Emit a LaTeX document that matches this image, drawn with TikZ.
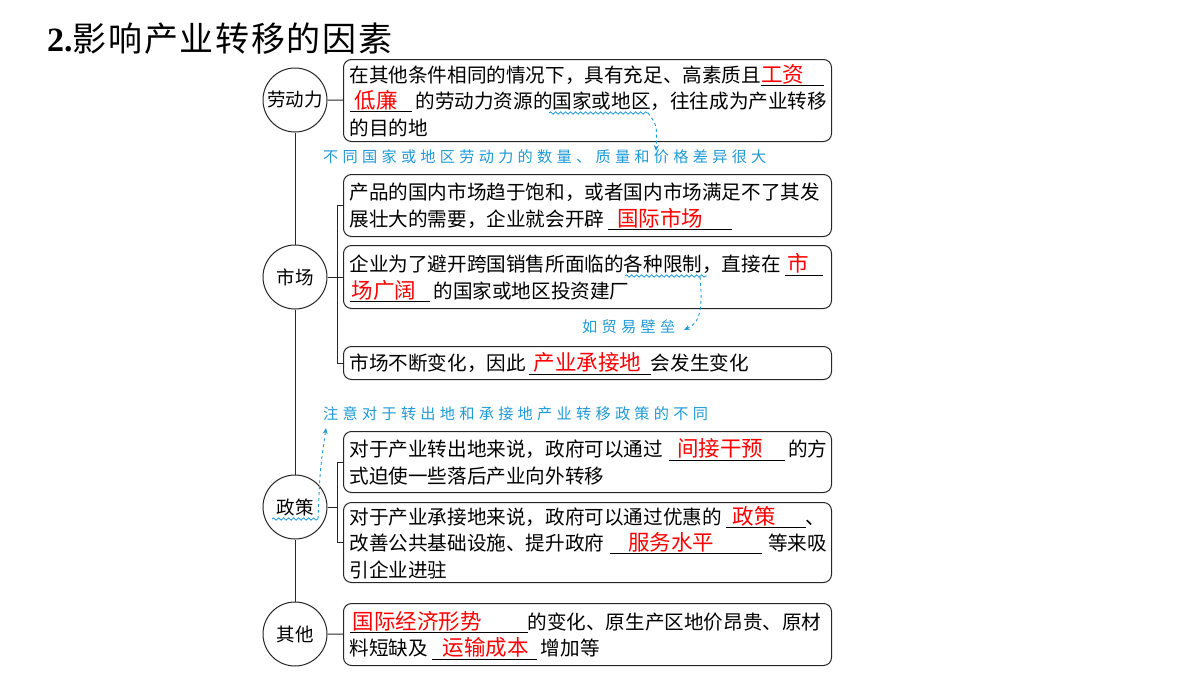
\documentclass[tikz,border=0pt]{standalone}
\usepackage{fontspec}
\setmainfont{Liberation Serif}
\newfontfamily\cjk{Noto Sans CJK SC}
\newfontfamily\titlefont[LetterSpace=5]{Noto Sans CJK SC}
\newfontfamily\notefont[LetterSpace=28]{Noto Sans CJK SC}
\usetikzlibrary{arrows.meta,decorations.pathmorphing}

\definecolor{notecyan}{HTML}{1E9AD6}
\definecolor{linegray}{HTML}{262626}

% red answer written on a blank
\newcommand{\fillin}[3][4]{\smash{\rlap{\rule[-3.5pt]{#2pt}{0.8pt}}}\makebox[#2pt][l]{\hspace{#1pt}\textcolor{red}{\fontsize{21.5}{21.5}\selectfont #3}}}

\begin{document}
\begin{tikzpicture}[x=1pt, y=-1pt,
    factor/.style={draw=linegray, line width=1pt, circle, minimum size=64pt, inner sep=0pt, fill=white,
        font=\cjk\fontsize{18.5}{20}\selectfont},
    infobox/.style={draw=linegray, line width=1pt, rounded corners=8pt, anchor=north west,
        text width=476pt, inner xsep=6pt, inner ysep=2pt, align=left,
        font=\cjk\fontsize{19.6}{26.5}\selectfont},
    note/.style={anchor=west, inner sep=0pt, text=notecyan, font=\notefont\fontsize{15.2}{15}\selectfont},
    wavy/.style={draw=notecyan, line width=0.8pt, decorate,
        decoration={snake, amplitude=1.2pt, segment length=5pt}},
    hint/.style={draw=notecyan, line width=0.9pt, dashed, -{Stealth[length=6pt, width=5pt]}}
]
    \useasboundingbox (0,0) rectangle (1200,675);

    % Title
    \node[anchor=base west, inner sep=0pt] (title) at (47,51)
        {\fontsize{34}{36}\selectfont\textbf{2.}\titlefont 影响产业转移的因素};

    % Factors
    \node[factor] (labor)  at (295,100) {劳动力};
    \node[factor] (market) at (295,277) {市场};
    \node[factor] (policy) at (295,507) {政策};
    \node[factor] (other)  at (295,634) {其他};

    % Trunk
    \foreach \a/\b in {labor/market, market/policy, policy/other} {
        \draw[linegray, line width=1pt] (\a) -- (\b);
    }

    % Boxes
    \node[infobox, minimum height=82pt] (l1) at (343,59)
        {在其他条件相同的情况下，具有充足、高素质且\fillin[0]{63}{工资}\\
         \fillin[5]{62}{低廉}\kern4pt 的劳动力资源的国家或地区，往往成为产业转移\\
         的目的地};
    \node[infobox, minimum height=62pt] (m1) at (343,174)
        {产品的国内市场趋于饱和，或者国内市场满足不了其发\\
         展壮大的需要，企业就会开辟\kern4pt\fillin[9]{124}{国际市场}};
    \node[infobox, minimum height=63pt] (m2) at (343,245)
        {企业为了避开跨国销售所面临的各种限制，直接在\kern4pt\fillin[3]{38}{市}\\
         \fillin[2]{80}{场广阔}\kern4pt 的国家或地区投资建厂};
    \node[infobox, minimum height=33pt] (m3) at (343,346)
        {市场不断变化，因此\kern3pt\fillin[5]{122}{产业承接地}会发生变化};
    \node[infobox, minimum height=61pt] (p1) at (343,431)
        {对于产业转出地来说，政府可以通过\kern6pt\fillin[8]{116}{间接干预}\kern3pt 的方\\
         式迫使一些落后产业向外转移};
    \node[infobox, minimum height=80pt] (p2) at (343,502)
        {对于产业承接地来说，政府可以通过优惠的\kern4pt\fillin[7]{80}{政策}、\\
         改善公共基础设施、提升政府\kern6pt\fillin[18]{152}{服务水平}\kern6pt 等来吸\\
         引企业进驻};
    \node[infobox, minimum height=62pt] (o1) at (343,603)
        {\fillin[3]{178}{国际经济形势}的变化、原生产区地价昂贵、原材\\
         料短缺及\kern4pt\fillin[11]{105}{运输成本}\kern4pt 增加等};

    % Connectors
    \draw[linegray, line width=1pt] (labor) -- (l1);
    \draw[linegray, line width=1pt] (other) -- (o1);
    \draw[linegray, line width=1pt] (market.east) -- (m2.west);
    \foreach \f/\boxa/\boxb in {market/m1/m3, policy/p1/p2} {
        \draw[linegray, line width=1pt] (\f.east) -- ++(10,0) coordinate (\f-fork);
        \draw[linegray, line width=1pt] (\boxa.west) -| (\f-fork) |- (\boxb.west);
    }

    % Notes
    \node[note] (note1) at (323,157) {不同国家或地区劳动力的数量、质量和价格差异很大};
    \node[note] (note2) at (582,327) {如贸易壁垒};
    \node[note] (note3) at (323,414) {注意对于转出地和承接地产业转移政策的不同};

    % Wavy marks and hints
    \coordinate (wave1a) at (549,113);
    \coordinate (wave1b) at (648,113);
    \coordinate (tip1)   at (656,151);
    \coordinate (wave2a) at (625,276);
    \coordinate (wave2b) at (707,276);
    \coordinate (tip2)   at (684,330);
    \coordinate (wave3a) at (272,519);
    \coordinate (wave3b) at (318,519);
    \coordinate (tip3)   at (326,428);
    \draw[wavy] (wave1a) -- (wave1b);
    \draw[wavy] (wave2a) -- (wave2b);
    \draw[wavy] (wave3a) -- (wave3b);
    \draw[hint] (wave1b) .. controls (657,125) .. (tip1);
    \draw[hint] (700,277) .. controls (704,318) and (696,324) .. (tip2);
    \draw[hint] (wave3b) .. controls (320,470) .. (tip3);
\end{tikzpicture}
\end{document}
